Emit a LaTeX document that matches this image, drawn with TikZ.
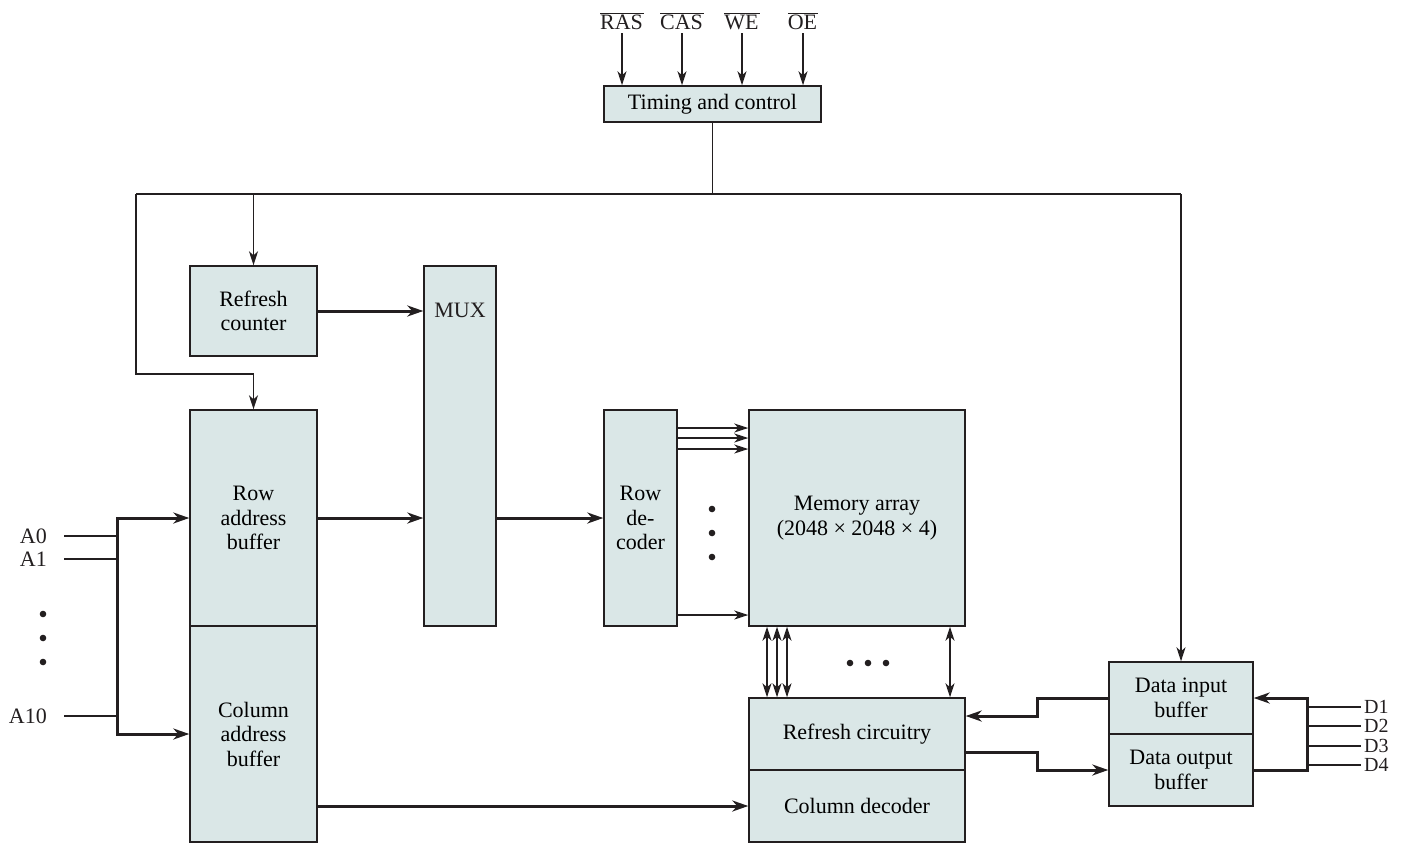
\documentclass[tikz,border=0pt]{standalone}
\usepackage{fontspec}
\setmainfont{Liberation Serif}
\usetikzlibrary{arrows.meta}
\definecolor{boxfill}{RGB}{218,231,231}
\definecolor{ink}{RGB}{35,31,32}
\begin{document}
\begin{tikzpicture}[x=1pt,y=-1pt,
  font=\fontsize{22}{24.5}\selectfont,
  blk/.style={draw=ink, fill=boxfill, line width=1.4pt, inner sep=0pt, align=center},
  lbl/.style={inner sep=2pt, text=ink},
  dlbl/.style={inner sep=0pt, anchor=west, text=ink, font=\fontsize{20}{20}\selectfont},
  sig/.style={anchor=south, inner sep=0pt, text=ink},
  thn/.style={draw=ink, line width=1.4pt, >={Stealth[length=14pt,width=9pt,inset=4pt]}},
  thk/.style={draw=ink, line width=3pt, >={Stealth[length=16pt,width=11pt,inset=5pt]}},
  dot/.style={fill=ink}]
\path[use as bounding box] (0,0) rectangle (1403,844);

% control signals
\node[sig] (ras) at (622,30) {$\overline{\mbox{RAS\kern1pt}}$};
\node[sig] (cas) at (682,30) {$\overline{\mbox{CAS\kern1pt}}$};
\node[sig] (we) at (742,30) {$\overline{\mbox{WE\kern1pt}}$};
\node[sig] (oe) at (803,30) {$\overline{\mbox{OE\kern1pt}}$};

% blocks
\node[blk, minimum width=217pt, minimum height=36pt] (tc) at (712.5,104) {Timing and control};
\node[blk, minimum width=127pt, minimum height=90pt] (rc) at (253.5,311) {Refresh\\counter};
\node[blk, minimum width=72pt, minimum height=360pt] (mux) at (460,446) {};
\node[lbl] (muxl) at (460,310) {MUX};
\node[blk, minimum width=127pt, minimum height=216pt] (rab) at (253.5,518) {Row\\address\\buffer};
\node[blk, minimum width=127pt, minimum height=216pt] (cab) at (253.5,734) {Column\\address\\buffer};
\node[blk, minimum width=73pt, minimum height=216pt] (rd) at (640.5,518) {Row\\de-\\coder};
\node[blk, minimum width=216pt, minimum height=216pt] (ma) at (857,518) {Memory array\\(2048 × 2048 × 4)};
\node[blk, minimum width=216pt, minimum height=72pt] (rcir) at (857,734) {Refresh circuitry};
\node[blk, minimum width=216pt, minimum height=72pt] (cdec) at (857,806) {Column decoder};
\node[blk, minimum width=144pt, minimum height=72pt] (dib) at (1181,698) {Data input\\buffer};
\node[blk, minimum width=144pt, minimum height=72pt] (dob) at (1181,770) {Data output\\buffer};

% signal arrows
\foreach \s in {ras,cas,we,oe}
  \draw[thn,->,shorten <=3pt] (\s.south) -- (\s.south |- tc.north);

% control bus
\coordinate (bus) at (713,194);
\coordinate (busL) at (136,194);
\coordinate (busR) at (1181,194);
\coordinate (lt) at (136,374);
\draw[thn] (tc.south) -- (tc.south |- bus);
\draw[thn] (busL) -- (busR);
\draw[thn,->] (busR) -- (dib.north);
\draw[thn,->] (rc.north |- bus) -- (rc.north);
\draw[thn,->] (busL) -- (lt) -| (rab.north);

% thick data paths
\draw[thk,->] (rc.east) -- (rc.east -| mux.west);
\draw[thk,->] (rab.east) -- (rab.east -| mux.west);
\draw[thk,->] (mux.east |- rd.west) -- (rd.west);
\draw[thk,->] (cab.east |- cdec.west) -- (cdec.west);

% row decoder outputs
\foreach \y in {428,438,449,615}
  \draw[thn,->] (rd.east |- 0,\y) -- (ma.west |- 0,\y);
\fill[dot] (712,509) circle (3.3pt);
\fill[dot] (712,533) circle (3.3pt);
\fill[dot] (712,557) circle (3.3pt);

% memory <-> refresh
\foreach \x in {767,777,787,950}
  \draw[thn,<->] (ma.south -| \x,0) -- (rcir.north -| \x,0);
\fill[dot] (850,663) circle (3.3pt);
\fill[dot] (868,663) circle (3.3pt);
\fill[dot] (886,663) circle (3.3pt);

% address inputs
\coordinate (abus) at (117,626);
\draw[thk,<->] (rab.west) -| (abus) |- (cab.west);
\node[lbl, anchor=east] (a0) at (49,536) {A0};
\node[lbl, anchor=east] (a1) at (49,559) {A1};
\node[lbl, anchor=east] (a10) at (49,716) {A10};
\foreach \a in {a0,a1,a10}
  \draw[thn, shorten <=15pt] (\a.east) -- (\a.east -| abus);
\fill[dot] (43,614) circle (3.3pt);
\fill[dot] (43,638) circle (3.3pt);
\fill[dot] (43,662) circle (3.3pt);

% data paths
\coordinate (dj1) at (1037,716);
\coordinate (dj2) at (1037,752);
\coordinate (dj3) at (1037,770);
\draw[thk,->] (dib.west) -| (dj1) -- (rcir.east |- dj1);
\draw[thk,->] (rcir.east |- dj2) -| (dj3) -- (dob.west);
\coordinate (dbus) at (1307,734);
\draw[thk,->] (dob.east) -| (dbus) |- (dib.east);
\node[dlbl] (d1) at (1364,707) {D1};
\node[dlbl] (d2) at (1364,726) {D2};
\node[dlbl] (d3) at (1364,746) {D3};
\node[dlbl] (d4) at (1364,765) {D4};
\foreach \d in {d1,d2,d3,d4}
  \draw[thn, shorten >=3pt] (dbus |- \d.west) -- (\d.west);
\end{tikzpicture}
\end{document}
